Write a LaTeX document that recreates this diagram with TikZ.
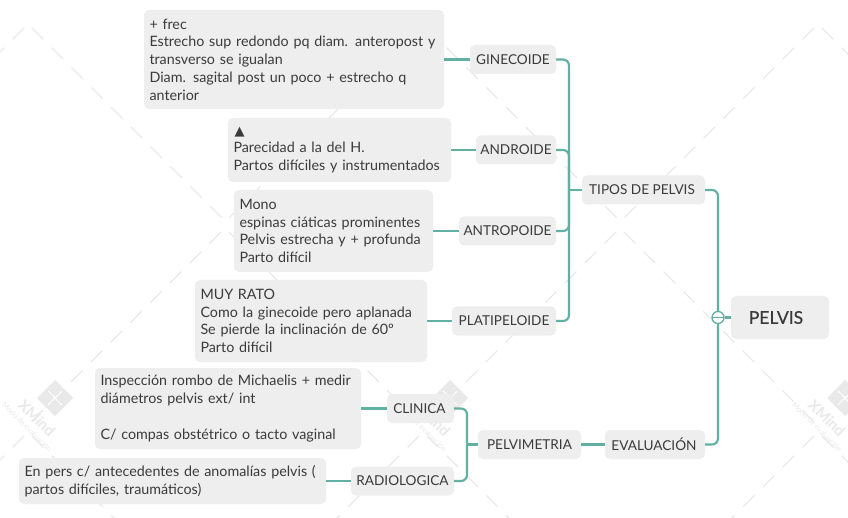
\documentclass[tikz,border=0pt]{standalone}
\usepackage{fontspec}
\setmainfont{Lato}
\newfontfamily\symfont{DejaVu Sans}
\newfontfamily\medfont[FakeBold=0.35]{Lato}
\definecolor{teal1}{HTML}{62AFA3}
\definecolor{boxg}{HTML}{EEEEEE}
\definecolor{ink}{HTML}{3A3A3A}
\definecolor{wm}{HTML}{E9E9E9}
\tikzset{
  note/.style={fill=boxg,rounded corners=5pt,inner xsep=5.5pt,inner ysep=0pt,align=left,text=ink,
    font=\fontsize{14.3}{17.75}\selectfont},
  topic/.style={fill=boxg,rounded corners=5pt,inner sep=0pt,align=center,text=ink,minimum height=29pt,
    font=\fontsize{13.6}{16}\selectfont},
  conn/.style={draw=teal1,line width=2.1pt,rounded corners=6pt},
  wmline/.style={draw=wm,line width=1.3pt,dash pattern=on 16pt off 12pt},
}
\begin{document}
\begin{tikzpicture}[x=1pt,y=-1pt]
\useasboundingbox[fill=white] (0,0) rectangle (848,518);
% watermark
\begin{scope}
\clip (0,0) rectangle (848,518);
\foreach \px/\py/\len in {28/24/190,423/24/190,818/24/190,225/228/190,620/228/190,28/432/90,423/432/90,818/432/90}{
  \draw[wmline] (\px+4,\py+4) -- ++(\len,\len);
  \draw[wmline] (\px-4,\py+4) -- ++(-\len,\len);
}
\foreach \lx in {55,450,845}{
  \fill[wm] (\lx,398-18) -- (\lx+18,398) -- (\lx,398+18) -- (\lx-18,398) -- cycle;
  \draw[white,line width=1pt] (\lx-7,398+7) .. controls (\lx-2,398+1) and (\lx+2,398-1) .. (\lx+7,398-7);
  \draw[white,line width=1pt] (\lx-7,398-7) .. controls (\lx-1,398-2) and (\lx+1,398+2) .. (\lx+7,398+7);
  \node[text=wm,rotate=-45,font=\bfseries\fontsize{15}{15}\selectfont,inner sep=0pt] (wmx\lx) at (\lx-18,398+20) {XMind};
  \node[text=wm,rotate=-45,font=\fontsize{7.5}{8}\selectfont,inner sep=0pt] (wmy\lx) at (\lx-28,398+29) {Modo de evaluación};
}
\end{scope}
% notes
\node[note,minimum height=99pt,text width=289pt] (t1) at (294,59.5) {+ frec\\Estrecho sup redondo pq diam. anteropost y\\transverso se igualan\\Diam. sagital post un poco + estrecho q\\anterior};
\node[note,minimum height=64pt,text width=212pt] (t2) at (339.5,150) {\hspace*{1pt}{\symfont\fontsize{13}{17.75}\selectfont ▲}\\Parecidad a la del H.\\Partos difíciles y instrumentados};
\node[note,minimum height=82pt,text width=188pt] (t3) at (333.5,231) {Mono\\espinas ciáticas prominentes\\Pelvis estrecha y + profunda\\Parto difícil};
\node[note,minimum height=82pt,text width=221pt] (t4) at (311,321) {MUY RATO\\Como la ginecoide pero aplanada\\Se pierde la inclinación de 60º\\Parto difícil};
\node[note,minimum height=81pt,text width=255pt] (t5) at (228,408.5) {Inspección rombo de Michaelis + medir\\diámetros pelvis ext/ int\\~\\C/ compas obstétrico o tacto vaginal};
\node[note,minimum height=46pt,text width=296pt] (t6) at (172.5,481) {En pers c/ antecedentes de anomalías pelvis (\\partos difíciles, traumáticos)};
% topics
\node[topic,minimum width=86pt] (gine) at (513,59.5) {GINECOIDE};
\node[topic,minimum width=80pt] (andr) at (516,150) {ANDROIDE};
\node[topic,minimum width=97pt] (antr) at (507.5,231) {ANTROPOIDE};
\node[topic,minimum width=104pt] (plat) at (504,321) {PLATIPELOIDE};
\node[topic,minimum width=123pt] (tipos) at (643.5,190) {\hspace*{-3pt}TIPOS DE PELVIS};
\node[topic,minimum width=100pt] (eval) at (655,444.5) {\hspace*{-2pt}EVALUACIÓN};
\node[topic,minimum width=103pt] (pmet) at (529.5,444.5) {PELVIMETRIA};
\node[topic,minimum width=67pt] (clin) at (420.5,408.5) {\hspace*{-2pt}CLINICA};
\node[topic,minimum width=103pt] (radi) at (402.5,481) {RADIOLOGICA};
\node[fill=boxg,rounded corners=5pt,minimum width=98pt,minimum height=43pt,inner sep=0pt,text=ink,font=\medfont\fontsize{17.5}{20}\selectfont] (pelvis) at (780,317.5) {\hspace*{-8pt}PELVIS};
\coordinate (s1) at (569,190);
\coordinate (s2) at (467,444.5);
\node[circle,draw=teal1,line width=1.3pt,fill=white,minimum size=12pt,inner sep=0pt,
  path picture={\draw[teal1,line width=1.2pt] (path picture bounding box.west) -- (path picture bounding box.east);}] (hub) at (718,317.5) {};
% connectors
\draw[conn] (t1.east) -- (gine.west);
\draw[conn] (t2.east) -- (andr.west);
\draw[conn] (t3.east) -- (antr.west);
\draw[conn] (t4.east) -- (plat.west);
\draw[conn] (t5.east) -- (clin.west);
\draw[conn] (t6.east) -- (radi.west);
\draw[conn] (gine.east) -| (s1);
\draw[conn] (andr.east) -| (s1);
\draw[conn] (antr.east) -| (s1);
\draw[conn] (plat.east) -| (s1);
\draw[conn] (s1) -- (tipos.west);
\draw[conn] (tipos.east) -| (hub.north);
\draw[conn] (eval.east) -| (hub.south);
\draw[conn] (hub.east) -- (pelvis.west);
\draw[conn] (eval.west) -- (pmet.east);
\draw[conn] (clin.east) -| (s2);
\draw[conn] (radi.east) -| (s2);
\draw[conn] (s2) -- (pmet.west);
\end{tikzpicture}
\end{document}
